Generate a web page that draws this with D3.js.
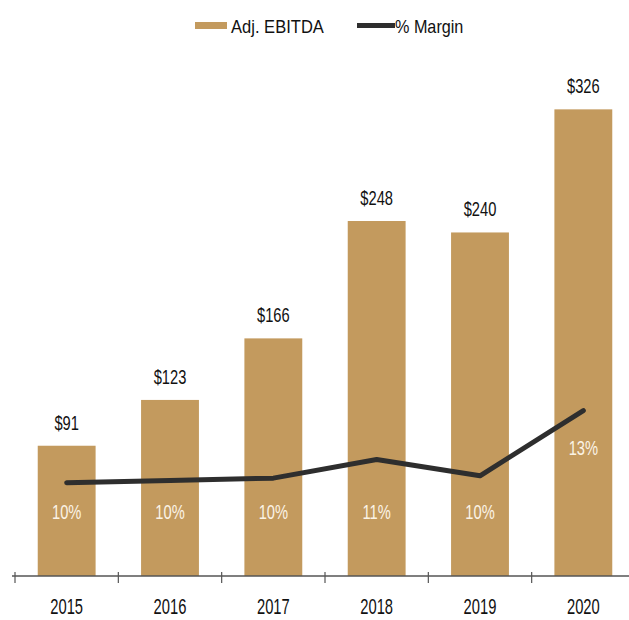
<!DOCTYPE html>
<html>
<head>
<meta charset="utf-8">
<script src="https://cdn.jsdelivr.net/npm/d3@7/dist/d3.min.js"></script>
<style>
  html, body { margin: 0; padding: 0; background: #fff; }
  svg { display: block; font-family: "Liberation Sans", Arial, sans-serif; }
</style>
</head>
<body>
<svg id="chart" width="629" height="620"></svg>
<script>
// Adjusted EBITDA ($M) and margin (%) by fiscal year
const years = ["2015", "2016", "2017", "2018", "2019", "2020"];
const ebitda = [91, 123, 166, 248, 240, 326];
const margin = [10.0, 10.1, 10.2, 11.0, 10.3, 13.1];
const seriesNames = ["Adj. EBITDA", "% Margin"];

const gold = "#C39A5E";
const dark = "#2E2E2E";

const svg = d3.select("#chart");

const x = d3.scaleBand().domain(years).range([15, 635]).paddingInner(0.44).paddingOuter(0.22);
const y = d3.scaleLinear().domain([0, 350]).range([576, 75]);
const y2 = d3.scaleLinear().domain([6, 26]).range([576, 110]);
const cx = d => x(d) + x.bandwidth() / 2;

// Condensed text: horizontal squeeze around the anchor point
function narrowText(sel, sx) {
  return sel.attr("transform", function () {
    const t = d3.select(this);
    return `translate(${t.attr("data-x")},${t.attr("data-y")}) scale(${sx},1)`;
  });
}

// Bars
svg.append("g").selectAll("rect").data(years).join("rect")
  .attr("x", d => x(d))
  .attr("width", x.bandwidth())
  .attr("y", (d, i) => y(ebitda[i]))
  .attr("height", (d, i) => y(0) - y(ebitda[i]))
  .attr("fill", gold);

// Value labels above bars
svg.append("g").selectAll("text").data(years).join("text")
  .attr("data-x", d => cx(d))
  .attr("data-y", (d, i) => y(ebitda[i]) - 16)
  .attr("text-anchor", "middle")
  .attr("font-size", 21)
  .attr("fill", "#111")
  .text((d, i) => "$" + ebitda[i])
  .call(narrowText, 0.7);

// X axis: baseline with ticks at band boundaries
const axis = svg.append("g");
axis.append("line")
  .attr("x1", 12).attr("x2", 629)
  .attr("y1", y(0)).attr("y2", y(0))
  .attr("stroke", "#555").attr("stroke-width", 1.5);
const step = x.step();
const boundaries = years.map(d => x(d) - (step - x.bandwidth()) / 2);
axis.selectAll("line.tick").data(boundaries).join("line")
  .attr("class", "tick")
  .attr("x1", d => d).attr("x2", d => d)
  .attr("y1", y(0) - 4).attr("y2", y(0) + 7)
  .attr("stroke", "#555").attr("stroke-width", 1.2);
axis.selectAll("text").data(years).join("text")
  .attr("data-x", d => cx(d))
  .attr("data-y", y(0) + 38)
  .attr("text-anchor", "middle")
  .attr("font-size", 22)
  .attr("fill", "#111")
  .text(d => d)
  .call(narrowText, 0.67);

// Margin line
const line = d3.line()
  .x((d, i) => cx(years[i]))
  .y(d => y2(d));
svg.append("path")
  .datum(margin)
  .attr("d", line)
  .attr("fill", "none")
  .attr("stroke", dark)
  .attr("stroke-width", 5)
  .attr("stroke-linejoin", "round")
  .attr("stroke-linecap", "round");

// Margin labels inside bars: a common row, lifted when the line sits high
svg.append("g").selectAll("text").data(years).join("text")
  .attr("data-x", d => cx(d))
  .attr("data-y", (d, i) => {
    const below = y2(margin[i]) + 44;
    return below < 480 ? below : 519;
  })
  .attr("text-anchor", "middle")
  .attr("font-size", 21)
  .attr("fill", "#FBF3E6")
  .text((d, i) => Math.round(margin[i]) + "%")
  .call(narrowText, 0.7);

// Legend
const legend = svg.append("g");
legend.append("rect")
  .attr("x", 195).attr("y", 22).attr("width", 32).attr("height", 7)
  .attr("fill", gold);
legend.append("text")
  .attr("data-x", 231).attr("data-y", 32.5)
  .attr("font-size", 18).attr("fill", "#111")
  .text(seriesNames[0])
  .call(narrowText, 0.92);
legend.append("line")
  .attr("x1", 357).attr("x2", 395).attr("y1", 25.5).attr("y2", 25.5)
  .attr("stroke", dark).attr("stroke-width", 5);
legend.append("text")
  .attr("data-x", 395).attr("data-y", 32.5)
  .attr("font-size", 18).attr("fill", "#111")
  .text(seriesNames[1])
  .call(narrowText, 0.9);
</script>
</body>
</html>
